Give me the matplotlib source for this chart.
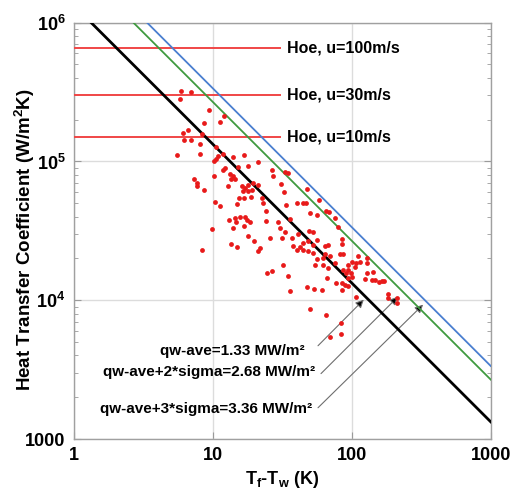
import numpy as np
import matplotlib
matplotlib.use("Agg")
import matplotlib.pyplot as plt
from matplotlib.ticker import FixedLocator, LogLocator, NullFormatter

plt.rcParams['font.family'] = ['Liberation Sans', 'DejaVu Sans']
plt.rcParams['font.weight'] = 'bold'

# measured points: T_f - T_w (K) and heat transfer coefficient (W/m2K)
dT = [5.89, 7.01, 5.80, 9.33, 12.0, 11.2, 8.63, 6.65, 6.12, 6.19,
      6.96, 8.39, 8.11, 10.5, 5.52, 8.11, 10.9, 11.8, 14.0, 16.8,
      10.6, 10.1, 12.2, 15.2, 18.0, 7.35, 7.65, 7.72, 8.67, 10.1,
      11.9, 13.3, 14.0, 13.4, 14.4, 12.9, 16.1, 17.0, 18.0, 19.5,
      16.4, 18.0, 19.2, 15.4, 16.7, 18.8, 10.4, 11.2, 14.8, 13.1,
      14.4, 14.7, 15.7, 17.0, 17.5, 18.5, 14.0, 16.7, 9.9, 18.0,
      19.9, 13.4, 15.0, 8.39, 21.1, 26.5, 27.2, 33.0, 34.9, 21.0,
      30.8, 32.7, 22.5, 23.1, 33.6, 40.3, 44.8, 46.8, 47.3, 58.1,
      50.0, 55.9, 64.7, 68.5, 75.7, 80.0, 24.0, 29.2, 35.9, 30.4,
      33.0, 25.8, 31.4, 37.1, 41.2, 49.2, 52.8, 21.8, 37.9, 40.3,
      42.4, 44.8, 48.6, 48.6, 55.9, 64.1, 84.6, 85.4, 44.8, 52.8,
      67.7, 24.1, 52.8, 64.1, 69.7, 82.2, 86.9, 111, 115, 128,
      129, 99.8, 108, 93.1, 105, 62.4, 55.9, 54.3, 75.7, 86.9,
      94.4, 90.8, 98.2, 128, 141, 147, 157, 164, 171, 124,
      76.9, 84.6, 94.4, 99.8, 89.3, 94.4, 24.5, 26.6, 31.7, 34.9,
      47.2, 53.2, 60.7, 35.9, 108, 181, 182, 211, 211, 50.0,
      64.9, 82.9, 84.0, 70.0, 65.9, 62.4, 67.0, 85.0, 139, 21.1]
htc = [3.22e5, 3.14e5, 2.81e5, 2.35e5, 2.13e5, 1.94e5, 1.90e5, 1.69e5, 1.61e5, 1.43e5,
       1.43e5, 1.58e5, 1.34e5, 1.27e5, 1.11e5, 1.13e5, 1.10e5, 1.13e5, 1.08e5, 1.12e5,
       1.04e5, 1.01e5, 8.95e4, 9.1e4, 9.2e4, 7.46e4, 6.98e4, 6.7e4, 6.25e4, 7.88e4,
       8.7e4, 8.15e4, 7.88e4, 7.46e4, 7.46e4, 6.67e4, 6.67e4, 6.43e4, 6.79e4, 6.98e4,
       6.17e4, 6.17e4, 6.25e4, 5.44e4, 5.44e4, 5.53e4, 5.14e4, 4.81e4, 4.95e4, 3.80e4,
       3.91e4, 3.69e4, 3.95e4, 3.95e4, 3.80e4, 3.66e4, 3.34e4, 3.40e4, 3.27e4, 2.88e4,
       2.65e4, 2.55e4, 2.42e4, 2.31e4, 2.25e4, 8.7e4, 7.88e4, 8.46e4, 8.24e4, 6.79e4,
       6.90e4, 6.0e4, 5.44e4, 5.01e4, 4.87e4, 5.06e4, 5.06e4, 5.01e4, 6.32e4, 5.25e4,
       4.25e4, 4.13e4, 4.41e4, 4.30e4, 3.93e4, 3.37e4, 3.74e4, 3.65e4, 3.86e4, 3.31e4,
       3.08e4, 2.81e4, 2.81e4, 2.83e4, 3.01e4, 3.13e4, 3.08e4, 2.38e4, 2.44e4, 2.31e4,
       2.40e4, 2.31e4, 2.27e4, 2.65e4, 2.73e4, 2.44e4, 2.76e4, 2.54e4, 2.58e4, 2.51e4,
       2.51e4, 4.36e4, 2.19e4, 2.16e4, 2.07e4, 2.16e4, 2.16e4, 2.07e4, 1.90e4, 2.01e4,
       1.85e4, 1.90e4, 1.85e4, 1.79e4, 1.75e4, 2.01e4, 1.99e4, 1.80e4, 1.85e4, 1.66e4,
       1.64e4, 1.57e4, 1.57e4, 1.58e4, 1.61e4, 1.41e4, 1.36e4, 1.38e4, 1.38e4, 1.42e4,
       1.33e4, 1.34e4, 1.44e4, 1.47e4, 1.29e4, 1.26e4, 1.57e4, 1.62e4, 1.80e4, 1.49e4,
       1.24e4, 1.21e4, 1.19e4, 1.16e4, 1.06e4, 1.10e4, 1.03e4, 9.55e3, 1.04e4, 8.64e3,
       7.82e3, 6.85e3, 5.72e3, 5.40e3, 1.44e4, 1.78e4, 1.72e4, 1.19e4, 1.41e4, 9.98e4]

# Hoe correlation levels
hoe_h = [6.6e5, 3.0e5, 1.49e5]
hoe_labels = ['Hoe, u=100m/s', 'Hoe, u=30m/s', 'Hoe, u=10m/s']

# constant heat flux lines h = q / dT (W/m2)
q_flux = [1.33e6, 2.68e6, 3.36e6]
q_colors = ['black', '#3f9a3f', '#4a7fd0']
q_widths = [2.0, 1.3, 1.3]
q_labels = ['qw-ave=1.33 MW/m²', 'qw-ave+2*sigma=2.68 MW/m²', 'qw-ave+3*sigma=3.36 MW/m²']
q_text_xy = [(4.16, 4.28e3), (1.62, 3.02e3), (1.54, 1.65e3)]
arrow_from = [(57.1, 4.7e3), (60.0, 2.96e3), (57.1, 1.68e3)]
arrow_to = [(122, 1.01e4), (215, 1.06e4), (326, 9.3e3)]

fig = plt.figure(figsize=(5.2, 4.93), dpi=100)
ax = fig.add_axes([0.1423, 0.1095, 0.8014, 0.8445])
ax.set_xscale('log')
ax.set_yscale('log')
ax.set_xlim(1, 1000)
ax.set_ylim(1000, 1e6)

ax.grid(True, which='major', color='#dcdcdc', lw=1.0)
ax.set_axisbelow(True)

for h, lab in zip(hoe_h, hoe_labels):
    ax.plot([1, 30.4], [h, h], color='#f04646', lw=1.4, zorder=3)
    ax.text(34.2, h, lab, fontsize=11.5, fontweight='bold', va='center', ha='left')

xs = np.array([1.0, 1000.0])
for q, c, w in zip(q_flux, q_colors, q_widths):
    ax.plot(xs, q / xs, color=c, lw=w, zorder=4)

ax.scatter(dT, htc, s=12, color='#e81a1a', zorder=5, linewidths=0)

for lab, (tx, ty), p0, p1 in zip(q_labels, q_text_xy, arrow_from, arrow_to):
    ax.text(tx, ty, lab, fontsize=11, fontweight='bold', va='center', ha='left')
    ax.annotate('', xy=p1, xytext=p0,
                arrowprops=dict(arrowstyle='-|>', lw=0.8, ec='#6e6e6e', fc='black',
                                mutation_scale=12, shrinkA=0, shrinkB=0))

ax.xaxis.set_major_locator(FixedLocator([1, 10, 100, 1000]))
ax.set_xticklabels(['1', '10', '100', '1000'])
ax.xaxis.set_minor_formatter(NullFormatter())
ax.xaxis.set_minor_locator(FixedLocator([]))
ax.yaxis.set_major_locator(FixedLocator([1e3, 1e4, 1e5, 1e6]))
ax.set_yticklabels(['1000', r'$\mathregular{10^4}$', r'$\mathregular{10^5}$', r'$\mathregular{10^6}$'])
ax.yaxis.set_minor_locator(LogLocator(base=10, subs=np.arange(2, 10)))
ax.yaxis.set_minor_formatter(NullFormatter())

ax.tick_params(axis='both', which='major', labelsize=13, direction='in', length=5,
               color='#9a9a9a', pad=6)
ax.tick_params(axis='y', which='both', right=True, direction='in', color='#9a9a9a')
ax.tick_params(axis='y', which='minor', length=3)
for lab in ax.get_xticklabels() + ax.get_yticklabels():
    lab.set_fontweight('bold')
for sp in ax.spines.values():
    sp.set_color('#a0a0a0')
    sp.set_linewidth(1.0)

ax.set_xlabel(r'$\mathregular{T_f}$-$\mathregular{T_w}$ (K)', fontsize=13, fontweight='bold', labelpad=3)
ax.set_ylabel(r'Heat Transfer Coefficient (W/m$\mathregular{^2}$K)', fontsize=13.5,
              fontweight='bold')
ax.yaxis.set_label_coords(-0.089, 0.478)

fig.savefig('out.png', dpi=100)
